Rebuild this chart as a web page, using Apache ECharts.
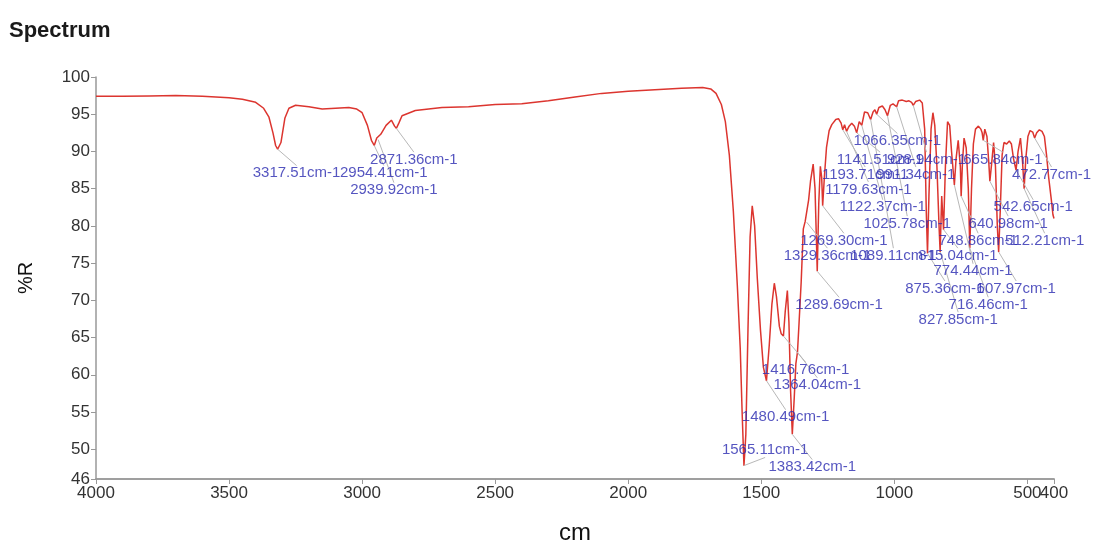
<!DOCTYPE html>
<html>
<head>
<meta charset="utf-8">
<script src="https://cdn.jsdelivr.net/npm/echarts@6/dist/echarts.min.js"></script>
<style>
  html, body { margin: 0; padding: 0; background: #fff; }
  #chart { width: 1095px; height: 544px; }
</style>
</head>
<body>
<div id="chart"></div>
<script>
// spectrum trace (cm-1, %R)
const wavenumber = [
  4000, 3900, 3800, 3700, 3600, 3500, 3450, 3400, 3370, 3350, 3335, 3325, 3317.51, 3305, 3290, 3275, 3250,
  3200, 3150, 3100, 3050, 3020, 3000, 2980, 2965, 2954.41, 2945, 2939.92, 2930, 2910, 2890, 2878, 2871.36,
  2862, 2850, 2800, 2700, 2600, 2500, 2400, 2300, 2200, 2100, 2000, 1900, 1800, 1720, 1690, 1670, 1650,
  1635, 1620, 1605, 1590, 1579, 1572, 1565.11, 1558, 1550, 1542, 1534, 1525, 1515, 1503, 1492, 1480.49,
  1470, 1460, 1451, 1443, 1432, 1425, 1416.76, 1410, 1402, 1396, 1390, 1383.42, 1376, 1370, 1364.04, 1358,
  1350, 1342, 1335, 1329.36, 1322, 1315, 1305, 1298, 1289.69, 1284, 1278, 1273, 1269.30, 1263, 1255, 1245,
  1235, 1220, 1210, 1200, 1193.71, 1187, 1179.63, 1170, 1160, 1150, 1141.51, 1132, 1122.37, 1112, 1100,
  1089.11, 1080, 1073, 1066.35, 1058, 1045, 1035, 1025.78, 1015, 1005, 998, 991.34, 984, 970, 955, 945,
  935, 928.94, 920, 905, 895, 886, 880, 875.36, 870, 862, 855, 848, 840, 832, 827.85, 822, 815.04, 808,
  800, 792, 785, 774.44, 768, 760, 752, 748.86, 744, 738, 730, 722, 716.46, 710, 703, 695, 684, 675, 670,
  665.84, 660, 652, 645, 640.98, 634, 627, 620, 613, 607.97, 602, 595, 588, 578, 568, 560, 552, 542.65,
  535, 526, 518, 512.21, 506, 498, 490, 480, 472.77, 465, 455, 445, 436, 428, 420, 410, 404, 400
]
const reflectance = [
  97.4, 97.4, 97.45, 97.5, 97.4, 97.2, 97.0, 96.6, 95.8, 94.6, 92.5, 90.8, 90.3, 91.2, 94.5, 95.8, 96.2,
  96.0, 95.7, 95.8, 95.9, 95.7, 95.2, 93.5, 91.5, 90.8, 91.8, 91.6, 92.3, 93.5, 94.2, 93.4, 93.1,
  93.8, 94.8, 95.5, 95.9, 96.0, 96.3, 96.4, 96.8, 97.3, 97.8, 98.1, 98.3, 98.5, 98.6, 98.4, 97.8, 96.3,
  94.0, 89.5, 82.0, 72.0, 63.5, 55.0, 47.8, 52.0, 66.0, 78.5, 82.7, 80.0, 73.0, 66.0, 61.0, 59.2,
  64.0, 69.5, 72.3, 70.5, 66.5, 65.5, 65.2, 68.5, 71.3, 67.0, 58.0, 52.0, 57.0, 61.5, 63.0, 67.0,
  72.5, 79.6, 80.6, 80.5, 83.5, 86.0, 88.3, 85.0, 73.9, 83.0, 88.0, 86.5, 82.7, 86.5, 90.5, 92.8,
  93.6, 94.3, 94.4, 93.8, 92.9, 93.6, 92.7, 93.4, 93.8, 93.4, 92.5, 94.0, 93.5, 95.3, 95.2,
  94.3, 95.3, 95.6, 95.0, 95.9, 96.1, 95.6, 94.8, 96.2, 96.4, 96.6, 96.0, 96.8, 96.9, 96.7, 96.8,
  96.6, 96.2, 96.7, 96.9, 96.5, 93.0, 82.0, 76.3, 84.0, 93.0, 95.2, 93.5, 88.0, 80.0, 76.5, 84.0, 79.5, 88.0,
  94.0, 93.5, 90.0, 85.5, 89.0, 91.5, 88.0, 84.0, 88.5, 91.8, 90.5, 85.0, 77.0, 85.0, 91.0, 93.0, 93.4, 93.0, 92.5,
  91.5, 93.0, 92.0, 88.5, 86.0, 88.5, 91.2, 88.0, 80.0, 76.5, 82.0, 89.5, 91.2, 91.0, 91.4, 91.0, 89.0, 87.5,
  90.0, 91.8, 88.5, 85.0, 89.0, 92.0, 92.8, 92.6, 91.8, 92.5, 92.9, 92.7, 92.0, 89.5, 86.5, 83.5, 81.5, 81.0
]

// labelled peaks
const peakWn = [
  3317.51, 2954.41, 2939.92, 2871.36, 1565.11, 1480.49, 1416.76, 1383.42, 1364.04, 1329.36, 1289.69,
  1269.30, 1193.71, 1179.63, 1141.51, 1122.37, 1089.11, 1066.35, 1025.78, 991.34, 928.94, 875.36,
  827.85, 815.04, 774.44, 748.86, 716.46, 665.84, 640.98, 607.97, 542.65, 512.21, 472.77
]
const peakR = [
  90.3, 90.8, 91.6, 93.1, 47.8, 59.2, 65.2, 52.0, 63.0, 80.5, 73.9,
  82.7, 92.9, 92.7, 92.5, 93.5, 94.3, 95.0, 94.8, 96.0, 96.2, 76.3,
  76.5, 79.5, 85.5, 84.0, 77.0, 91.5, 86.0, 76.5, 87.5, 85.0, 91.8
]
// where each peak's text starts (left edge, middle), in axis units
const labelAt = [
  [3411, 87.1], [3083, 87.1], [3045, 84.8], [2970, 88.9], [1648, 49.9], [1573, 54.3], [1498, 60.7],
  [1473, 47.6], [1454, 58.6], [1416, 76.0], [1372, 69.4], [1354, 78.0], [1272, 86.9], [1260, 84.9],
  [1216, 88.9], [1206, 82.5], [1166, 76.0], [1153, 91.4], [1116, 80.3], [1068, 86.9], [1028, 88.9],
  [959, 71.6], [909, 67.4], [910, 76.0], [853, 73.9], [834, 78.0], [796, 69.4], [741, 88.9],
  [721, 80.3], [691, 71.6], [627, 82.5], [584, 78.0], [558, 86.9]
]

// 400 sits right next to 500, so it gets its own axis to escape the overlap check
const xTicks = [4000, 3500, 3000, 2500, 2000, 1500, 1000, 500]
const xEndTick = [400]
const yTicks = [46, 50, 55, 60, 65, 70, 75, 80, 85, 90, 95, 100]

const chart = echarts.init(document.getElementById('chart'))
const font = 'Liberation Sans, Arial, sans-serif'

function bottomAxis(ticks, extra) {
  return Object.assign({
    type: 'value',
    inverse: true,
    min: 400,
    max: 4000,
    position: 'bottom',
    axisLine: { lineStyle: { color: '#999', width: 1.5 } },
    axisTick: { show: true, customValues: ticks, length: 5, lineStyle: { color: '#999' } },
    axisLabel: {
      customValues: ticks,
      formatter: v => String(v),
      fontFamily: font,
      fontSize: 17,
      color: '#333',
      margin: 6,
    },
    splitLine: { show: false },
  }, extra)
}

chart.setOption({
  animation: false,
  backgroundColor: '#fff',
  title: {
    text: 'Spectrum',
    left: 4,
    top: 15,
    textStyle: { fontFamily: font, fontWeight: 'bold', fontSize: 22, color: '#1a1a1a' },
  },
  grid: { left: 96, right: 41, top: 77, bottom: 65, outerBoundsMode: 'none', containLabel: false },
  xAxis: [
    bottomAxis(xTicks, {
      name: 'cm',
      nameLocation: 'middle',
      nameGap: 42,
      nameTextStyle: { fontFamily: font, fontSize: 24, color: '#111' },
    }),
    bottomAxis(xEndTick, {}),
  ],
  yAxis: {
    type: 'value',
    min: 46,
    max: 100,
    name: '%R',
    nameLocation: 'middle',
    nameGap: 60,
    nameTextStyle: { fontFamily: font, fontSize: 20, color: '#111' },
    axisLine: { show: true, lineStyle: { color: '#999', width: 1.5 } },
    axisTick: { show: true, customValues: yTicks, length: 5, lineStyle: { color: '#999' } },
    axisLabel: {
      customValues: yTicks,
      showMinLabel: true,
      showMaxLabel: true,
      formatter: v => String(v),
      fontFamily: font,
      fontSize: 17,
      color: '#333',
      margin: 6,
    },
    splitLine: { show: false },
  },
  series: [
    {
      id: 'trace',
      type: 'line',
      xAxisIndex: 0,
      data: wavenumber.map((w, i) => [w, reflectance[i]]),
      showSymbol: false,
      lineStyle: { color: '#dc352f', width: 1.5 },
      z: 2,
    },
    {
      id: 'peaks',
      type: 'scatter',
      xAxisIndex: 0,
      data: peakWn.map((w, i) => [w, peakR[i]]),
      symbolSize: 0.1,
      itemStyle: { color: 'rgba(0,0,0,0)' },
      label: {
        show: true,
        formatter: p => peakWn[p.dataIndex].toFixed(2) + 'cm-1',
        fontFamily: font,
        fontSize: 15,
        color: '#2a2ab0',
      },
      labelLine: { show: true, lineStyle: { color: '#b8b8b8', width: 1 } },
      z: 3,
    },
  ],
})

// place the texts through the axes, then hand them to the label layout
const spots = labelAt.map(p => chart.convertToPixel({ xAxisIndex: 0, yAxisIndex: 0 }, p))
chart.setOption({
  series: [
    { id: 'trace' },
    {
      id: 'peaks',
      labelLayout: params => ({
        x: spots[params.dataIndex][0],
        y: spots[params.dataIndex][1],
        align: 'left',
        verticalAlign: 'middle',
      }),
    },
  ],
})
</script>
</body>
</html>
